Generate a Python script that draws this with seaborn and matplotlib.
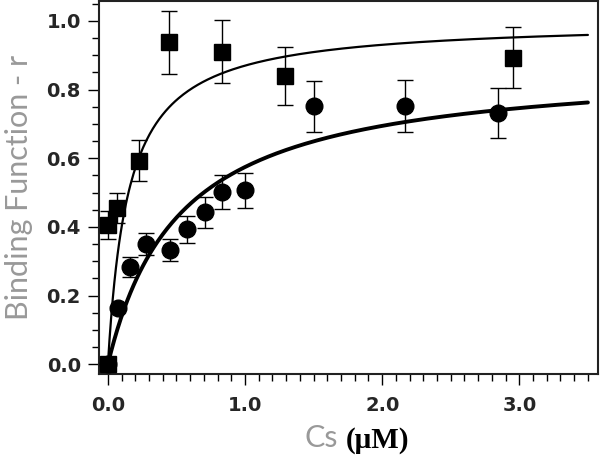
import numpy as np
import pandas as pd
import matplotlib
matplotlib.use("Agg")
import matplotlib.pyplot as plt
from matplotlib.ticker import MultipleLocator, FormatStrFormatter
import seaborn as sns

# ---- data ----
sq_x = [0.0, 0.0, 0.066, 0.224, 0.443, 0.832, 1.29, 2.956]
sq_y = [0.0, 0.405, 0.455, 0.593, 0.937, 0.910, 0.840, 0.893]
sq_err = [0.0, 0.040, 0.045, 0.060, 0.092, 0.091, 0.084, 0.089]

ci_x = [0.0, 0.07, 0.16, 0.28, 0.45, 0.58, 0.71, 0.835, 1.0, 1.503, 2.166, 2.842]
ci_y = [0.0, 0.163, 0.283, 0.350, 0.332, 0.393, 0.443, 0.502, 0.506, 0.751, 0.753, 0.731]
ci_err = [0.0, 0.0, 0.030, 0.033, 0.032, 0.040, 0.045, 0.050, 0.050, 0.075, 0.076, 0.072]

# hyperbolic fit parameters (r = Bmax * Cs / (Kd + Cs))
sq_bmax, sq_kd = 1.0, 0.15
ci_bmax, ci_kd = 0.877, 0.527
fit_xmax = 3.5

x_ticks = [0.0, 1.0, 2.0, 3.0]
y_ticks = [0.0, 0.2, 0.4, 0.6, 0.8, 1.0]

sns.set_style("ticks")
plt.rcParams["font.family"] = ["DejaVu Sans"]

fig = plt.figure(figsize=(6.0, 4.57), dpi=100)
ax = fig.add_axes([0.165, 0.182, 0.832, 0.816])

xs = np.linspace(0.0, fit_xmax, 300)
fit_df = pd.DataFrame({
    "x": np.concatenate([xs, xs]),
    "r": np.concatenate([sq_bmax * xs / (sq_kd + xs), ci_bmax * xs / (ci_kd + xs)]),
    "set": ["sq"] * len(xs) + ["ci"] * len(xs),
})
sns.lineplot(data=fit_df[fit_df["set"] == "sq"], x="x", y="r", color="black",
             linewidth=1.6, ax=ax, zorder=2)
sns.lineplot(data=fit_df[fit_df["set"] == "ci"], x="x", y="r", color="black",
             linewidth=2.8, ax=ax, zorder=2)

ax.errorbar(sq_x, sq_y, yerr=sq_err, fmt="none", ecolor="black",
            elinewidth=1.0, capsize=6, capthick=1.0, zorder=3)
ax.errorbar(ci_x, ci_y, yerr=ci_err, fmt="none", ecolor="black",
            elinewidth=1.0, capsize=6, capthick=1.0, zorder=3)

ax.plot(sq_x, sq_y, linestyle="none", marker="s", markersize=11.5,
        color="black", zorder=4)
ax.plot(ci_x, ci_y, linestyle="none", marker="o", markersize=12,
        color="black", zorder=4)

ax.set_xlim(-0.065, 3.575)
ax.set_ylim(-0.028, 1.058)
ax.set_xticks(x_ticks)
ax.set_yticks(y_ticks)
ax.xaxis.set_minor_locator(MultipleLocator(0.1))
ax.yaxis.set_minor_locator(MultipleLocator(0.05))
ax.xaxis.set_major_formatter(FormatStrFormatter("%.1f"))
ax.yaxis.set_major_formatter(FormatStrFormatter("%.1f"))
ax.tick_params(which="major", direction="out", length=8, width=1.0,
               labelsize=14, pad=5, color="black")
ax.tick_params(axis="x", which="major", pad=8)
ax.tick_params(which="minor", direction="out", length=5, width=1.0, color="black")
for lab in ax.get_xticklabels() + ax.get_yticklabels():
    lab.set_fontweight("bold")

for s in ax.spines.values():
    s.set_linewidth(1.5)
    s.set_color("#222222")

ax.set_xlabel("")
ax.set_ylabel("Binding Function - r", family=["Lato", "DejaVu Sans"],
              fontweight="normal", fontsize=22, color="#999999", labelpad=10)

fig.text(0.564, 0.021, "Cs", family=["Lato", "DejaVu Sans"], fontweight="normal",
         fontsize=22, color="#999999", ha="right", va="baseline")
fig.text(0.576, 0.021, "(\u03bcM)", family=["Liberation Serif", "DejaVu Serif"],
         fontweight="bold", fontsize=21, color="black", ha="left", va="baseline")

fig.savefig("out.png", dpi=100)
